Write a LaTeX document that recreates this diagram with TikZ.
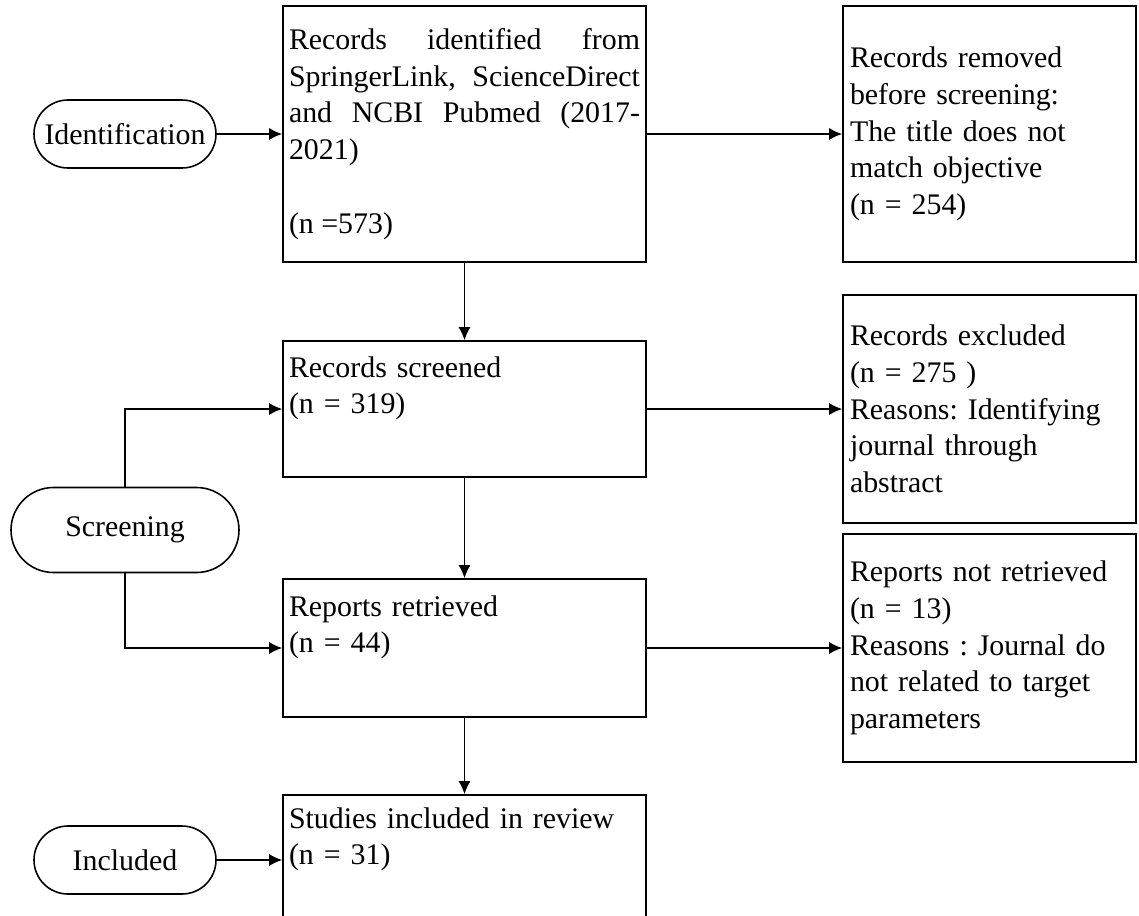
\documentclass[tikz,border=0pt]{standalone}
\usepackage{fontspec}
\setmainfont{Liberation Serif}
\usetikzlibrary{arrows.meta,shapes}
\frenchspacing

\begin{document}
\begin{tikzpicture}[font=\fontsize{17}{20.9}\selectfont, line width=0.9pt,
      >={Latex[length=7.5pt,width=7pt]},
      nodes={draw, rectangle},
      stage/.style={rounded rectangle, minimum width=3.84cm, minimum height=1.36cm, inner sep=0.1cm},
      mainbox/.style={inner xsep=0.12cm, text width=7.02cm, align=left},
      sidebox/.style={inner xsep=0.14cm, text width=5.58cm, align=left, minimum height=4.56cm}]
    \useasboundingbox (0,0) rectangle (22.78,-18.3);

    % identification
    \node[stage](ident) at (2.5,-2.68){Identification};
    \node[mainbox, right of=ident, node distance=6.79cm, minimum height=5.12cm, align=justify](rec)
      {Records identified from\linebreak SpringerLink, ScienceDirect\linebreak and NCBI Pubmed (2017-\linebreak 2021)\\[\baselineskip](n =573)};
    \node[sidebox, right of=rec, node distance=10.5cm, minimum height=5.12cm](rm)
      {Records removed\\before screening:\\The title does not\\match objective\\(n = 254)};
    \draw[->] (ident) -- (rec);
    \draw[->] (rec) -- (rm);

    % screening
    \node[stage, below of=ident, node distance=7.92cm, minimum width=4.76cm, minimum height=1.7cm](scrn){Screening};
    \node[mainbox, below of=rec, node distance=5.5cm, minimum height=2.72cm](scr)
      {Records screened\\(n = 319)\\\strut};
    \node[sidebox, right of=scr, node distance=10.5cm](excl)
      {Records excluded\\(n = 275 )\\Reasons: Identifying\\journal through\\abstract};
    \node[mainbox, below of=scr, node distance=4.78cm, minimum height=2.76cm](ret)
      {Reports retrieved\\(n = 44)\\\strut};
    \node[sidebox, right of=ret, node distance=10.5cm](nret)
      {Reports not retrieved\\(n = 13)\\Reasons : Journal do\\not related to target\\parameters};
    \draw[->] (rec) -- (scr);
    \draw[->] (scr) -- (excl);
    \draw[->] (scr) -- (ret);
    \draw[->] (ret) -- (nret);
    \draw[->] (scrn.north) |- (scr.west);
    \draw[->] (scrn.south) |- (ret.west);

    % included
    \node[mainbox, below of=ret, node distance=4.24cm, minimum height=2.6cm](inc)
      {Studies included in review\\(n = 31)\\\strut};
    \node[stage, left of=inc, node distance=6.79cm](incl){Included};
    \draw[->] (ret) -- (inc);
    \draw[->] (incl) -- (inc);

\end{tikzpicture}
\end{document}
